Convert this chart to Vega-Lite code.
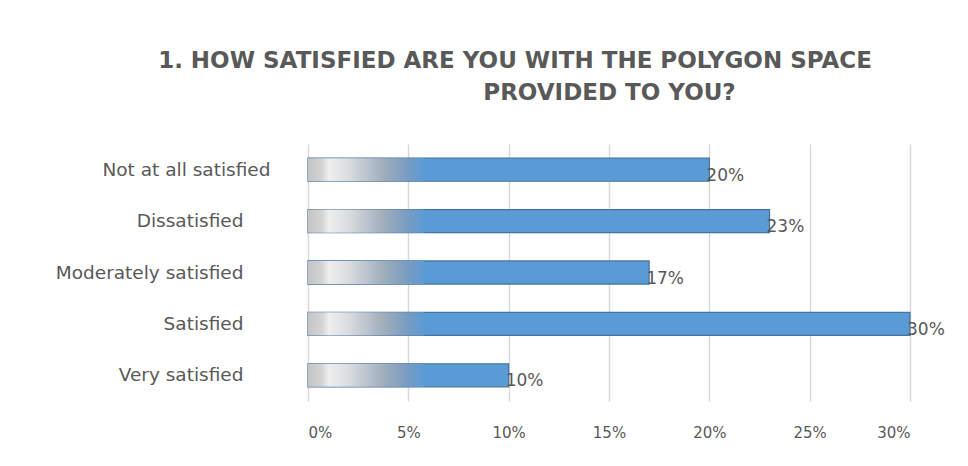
{
  "$schema": "https://vega.github.io/schema/vega-lite/v6.json",
  "autosize": "none",
  "width": 602,
  "height": 257,
  "padding": {"left": 308, "top": 144, "right": 58, "bottom": 65},
  "background": "white",
  "title": {
    "text": "1. HOW SATISFIED ARE YOU WITH THE POLYGON SPACE",
    "anchor": "middle",
    "frame": "group",
    "dx": -94,
    "offset": 8,
    "font": "DejaVu Sans",
    "fontSize": 23,
    "fontWeight": "bold",
    "color": "#595959"
  },
  "data": {
    "values": [
      {"response": "Not at all satisfied", "share": 0.20},
      {"response": "Dissatisfied", "share": 0.23},
      {"response": "Moderately satisfied", "share": 0.17},
      {"response": "Satisfied", "share": 0.30},
      {"response": "Very satisfied", "share": 0.10}
    ]
  },
  "encoding": {
    "y": {
      "field": "response",
      "type": "nominal",
      "sort": null,
      "scale": {"paddingInner": 0.55, "paddingOuter": 0.275},
      "axis": {
        "title": null,
        "domain": false,
        "ticks": false,
        "labelFont": "DejaVu Sans",
        "labelFontSize": 18.5,
        "labelColor": "#595959",
        "labelLimit": 400,
        "labelPadding": {"condition": {"test": "datum.value === 'Not at all satisfied'", "value": 38}, "value": 65}
      }
    }
  },
  "layer": [
    {
      "mark": {"type": "bar", "color": "#5b9bd5", "stroke": "#44739f", "strokeWidth": 1.2},
      "encoding": {
        "x": {
          "field": "share",
          "type": "quantitative",
          "scale": {"domain": [0, 0.3], "nice": false},
          "axis": {
            "title": null,
            "format": ".0%",
            "values": [0, 0.05, 0.1, 0.15, 0.2, 0.25, 0.3],
            "domain": false,
            "ticks": false,
            "grid": true,
            "gridColor": "#d9d9d9",
            "gridWidth": 1.5,
            "labelFont": "DejaVu Sans",
            "labelFontSize": 15,
            "labelColor": "#595959",
            "labelPadding": 24
          }
        }
      }
    },
    {
      "mark": {
        "type": "bar",
        "fill": {
          "gradient": "linear",
          "x1": 0, "x2": 1, "y1": 0, "y2": 0,
          "stops": [
            {"offset": 0, "color": "#c4c4c4"},
            {"offset": 0.12, "color": "#d4d4d4"},
            {"offset": 0.18, "color": "#eeeeee"},
            {"offset": 0.35, "color": "#dadcdf"},
            {"offset": 0.65, "color": "#a0adbc"},
            {"offset": 0.85, "color": "#7a9cc2"},
            {"offset": 1, "color": "#5b9bd5"}
          ]
        }
      },
      "encoding": {
        "x": {"datum": 0, "type": "quantitative", "axis": null},
        "x2": {"datum": 0.058}
      }
    },
    {
      "mark": {"type": "text", "align": "left", "baseline": "middle", "dx": -3, "dy": 6, "font": "DejaVu Sans", "fontSize": 17, "color": "#595959"},
      "encoding": {
        "x": {
          "field": "share",
          "type": "quantitative",
          "axis": {
            "orient": "top",
            "title": "PROVIDED TO YOU?",
            "titleFont": "DejaVu Sans",
            "titleFontSize": 23,
            "titleFontWeight": "bold",
            "titleColor": "#595959",
            "titlePadding": 40,
            "labels": false,
            "ticks": false,
            "domain": false,
            "grid": false
          }
        },
        "text": {"field": "share", "type": "quantitative", "format": ".0%"}
      }
    }
  ],
  "resolve": {"axis": {"x": "independent"}},
  "config": {"view": {"stroke": null}}
}
